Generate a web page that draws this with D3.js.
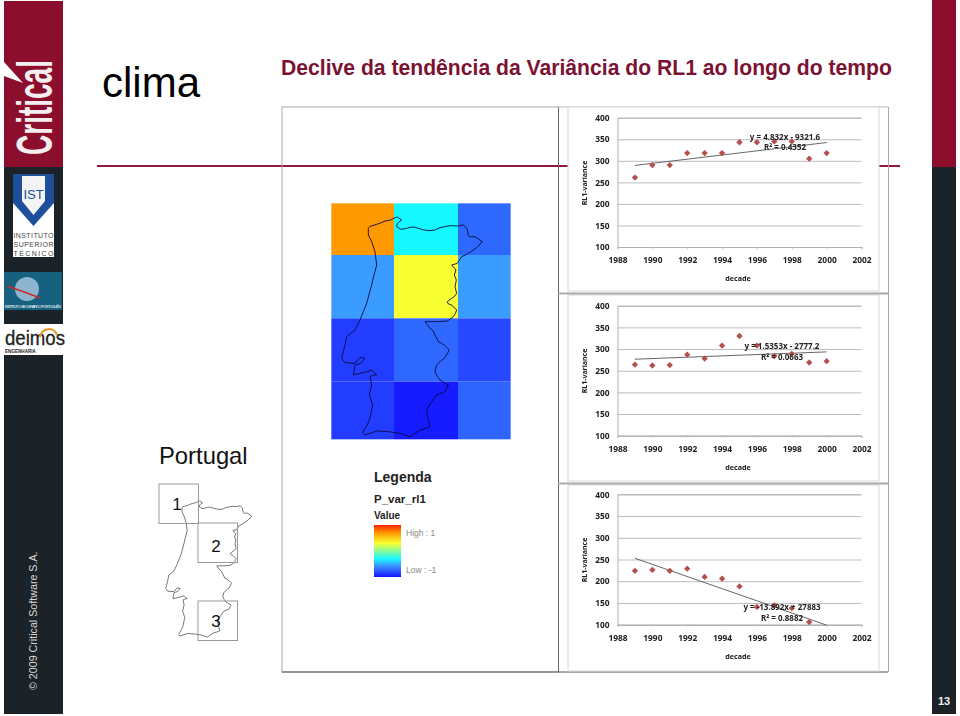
<!DOCTYPE html>
<html>
<head>
<meta charset="utf-8">
<script src="https://cdn.jsdelivr.net/npm/d3@7"></script>
<style>
html,body{margin:0;padding:0;background:#fff}
svg{display:block}
text{font-family:"Liberation Sans",Arial,sans-serif}
.chart text{font-family:"Noto Sans",sans-serif;font-weight:700;fill:#222}
.chart .domain{stroke:#b0b0b0}
.chart .tick line{stroke:#bdbdbd}
</style>
</head>
<body>
<svg id="slide" width="960" height="716"></svg>
<script>
// ---------- data ----------
const years = [1989,1990,1991,1992,1993,1994,1995,1996,1997,1998,1999,2000];
const region1Variance = [261,290,290,318,318,318,343,343,345,345,305,318];
const region2Variance = [264,262,263,287,278,308,330,308,284,289,269,272];
const region3Variance = [224,226,224,229,210,206,188,141,145,138,106];
const trendYears = [1989,2000];
const region1Trend = [289.3,342.4];
const region2Trend = [276.5,293.4];
const region3Trend = [252.8,99];
const region1Labels = ["y = 4.832x - 9321.6","R² = 0.4352"];
const region2Labels = ["y = 1.5353x - 2777.2","R² = 0.0663"];
const region3Labels = ["y = -13.892x + 27883","R² = 0.8882"];
const xTicks = [1988,1990,1992,1994,1996,1998,2000,2002];
const yTicks = [100,150,200,250,300,350,400];

// raster map: cell values, rows north to south
const gridValues = [
  [0.70,-0.30,-0.72],
  [-0.55,0.30,-0.55],
  [-0.86,-0.72,-0.82],
  [-0.86,-0.98,-0.73]
];
const gridXEdges = [34,222,414,572];   // map units
const gridYEdges = [25,180,370,560,733];
const rampValues = [-1,-0.8,-0.55,-0.3,0.3,0.7,1];
const rampColors = ["#1414ff","#2a50ff","#3a9cff","#18f8ff","#f8ff30","#ff9900","#ff2000"];

// Portugal outline, map units
const outlineX = [145,150,170,182,195,212,225,232,245,236,232,230,243,256,270,283,295,312,330,345,360,375,390,412,430,441,445,452,465,487,470,455,440,425,412,395,408,403,409,405,410,403,395,382,384,395,410,406,400,382,350,315,330,338,345,355,362,375,388,375,362,350,345,352,360,385,375,350,335,322,320,330,315,300,270,240,205,170,135,128,142,150,158,148,155,150,160,170,155,140,100,105,122,135,120,105,75,65,70,75,80,105,120,132,140,155,162,170,165,155,145,145];
const outlineY = [100,94,88,84,78,75,68,66,75,82,85,95,103,101,97,96,100,105,107,105,98,95,92,93,90,100,122,126,125,140,158,168,178,185,205,210,225,240,255,275,295,305,310,320,326,330,345,356,365,378,380,380,400,406,420,440,443,452,465,488,498,510,530,544,555,570,590,600,620,640,655,695,701,705,725,715,710,708,720,712,690,670,630,600,570,545,540,540,525,530,540,510,505,490,487,505,503,490,470,450,425,405,375,345,325,270,240,210,170,140,120,100];
const keyBoxes = ["1","2","3"];
const keyBoxX = [159,198,198];
const keyBoxY = [484,523,601];

// ---------- palette ----------
const red = "#8b0e2d", dark = "#1b2228", titleRed = "#7c1233";
const svg = d3.select("#slide");
const defs = svg.append("defs");
defs.append("filter").attr("id","soft").append("feGaussianBlur").attr("stdDeviation",0.35);

// ---------- slide frame ----------
svg.append("rect").attr("x",4).attr("y",1).attr("width",59).attr("height",713).attr("fill",dark);
svg.append("rect").attr("x",4).attr("y",1).attr("width",59).attr("height",166).attr("fill",red);
svg.append("rect").attr("x",932).attr("y",0).attr("width",24).attr("height",714).attr("fill",dark);
svg.append("rect").attr("x",932).attr("y",0).attr("width",24).attr("height",167).attr("fill",red);

svg.append("text").attr("x",944).attr("y",705).attr("text-anchor","middle").attr("font-size",11).attr("font-weight",700).attr("fill","#eee").text("13");
svg.append("text").attr("transform","translate(37,690) rotate(-90)").attr("font-size",10.7).attr("fill","#d8d8d8").text("© 2009 Critical Software S.A.");

// Critical logo: squeezed horizontally along the sidebar
svg.append("path").attr("d","M23,83L4,62L4,76Z").attr("fill","#fff");
const critical = svg.append("text").attr("font-size",50).attr("font-weight",700).attr("fill","#f4eef0").text("Critical");
const criticalScale = 95/critical.node().getComputedTextLength();
critical.attr("transform",`translate(52,155) rotate(-90) scale(${criticalScale},1)`);

// IST logo
svg.append("rect").attr("x",13).attr("y",174).attr("width",41).attr("height",83).attr("fill","#fff");
svg.append("path").attr("d","M13,174H54V203L33.5,226L13,203Z").attr("fill","#1e4f9a");
svg.append("path").attr("d","M22,176H45V201L33.5,215L22,201Z").attr("fill","#f4f4f4");
svg.append("text").attr("x",33.5).attr("y",199).attr("text-anchor","middle").attr("font-size",13).attr("fill","#1e4f9a").text("IST");
["INSTITUTO","SUPERIOR","TÉCNICO"].forEach((t,i)=>{
  svg.append("text").attr("x",13.5).attr("y",238+i*9).attr("font-size",7).attr("textLength",40).attr("fill","#444").text(t);
});

// IGP logo
svg.append("rect").attr("x",4).attr("y",272).attr("width",58).attr("height",38).attr("fill","#15617f");
svg.append("circle").attr("cx",27).attr("cy",289).attr("r",12).attr("fill","#8fb4cf");
svg.append("path").attr("d","M7,286Q25,292 40,298").attr("stroke","#c92a2a").attr("stroke-width",1.6).attr("fill","none");
svg.append("text").attr("x",5).attr("y",308).attr("font-size",4).attr("textLength",56).attr("fill","#fff").text("INSTITUTO GEOGRÁFICO PORTUGUÊS");

// Deimos logo
svg.append("rect").attr("x",0).attr("y",324).attr("width",65).attr("height",31).attr("fill","#fff");
svg.append("text").attr("x",5).attr("y",344.5).attr("font-size",20).attr("textLength",60).attr("lengthAdjust","spacingAndGlyphs")
  .attr("fill","#222").attr("stroke","#222").attr("stroke-width",0.3).text("deimos");
svg.append("path").attr("d","M40,337A9,10 0 0 1 57,335").attr("stroke","#e8941e").attr("stroke-width",2).attr("fill","none");
svg.append("text").attr("x",5).attr("y",353).attr("font-size",4.6).attr("font-weight",700).attr("fill","#222").text("ENGENHARIA");

// ---------- headings ----------
svg.append("text").attr("x",102).attr("y",97).attr("font-size",42).attr("fill","#000").text("clima");
svg.append("text").attr("x",281).attr("y",75).attr("font-size",21.15).attr("font-weight",700).attr("fill",titleRed)
  .text("Declive da tendência da Variância do RL1 ao longo do tempo");
svg.append("line").attr("x1",97).attr("x2",900).attr("y1",166).attr("y2",166).attr("stroke","#8f1a3c").attr("stroke-width",2);

// ---------- panel frames ----------
svg.append("rect").attr("x",282).attr("y",107).attr("width",276.5).attr("height",565).attr("fill","none").attr("stroke","#aaa");
svg.append("line").attr("x1",558.5).attr("x2",558.5).attr("y1",107).attr("y2",672).attr("stroke","#666");
svg.append("line").attr("x1",282).attr("x2",888).attr("y1",672).attr("y2",672).attr("stroke","#555");
svg.append("line").attr("x1",888.5).attr("x2",888.5).attr("y1",107).attr("y2",672).attr("stroke","#aaa");
svg.append("line").attr("x1",558).attr("x2",888).attr("y1",107).attr("y2",107).attr("stroke","#bbb");

// ---------- raster map ----------
const mapX = d3.scaleLinear().domain([0,600]).range([320,520]);
const mapY = d3.scaleLinear().domain([0,750]).range([195,445]);
const rampScale = d3.scaleLinear().domain(rampValues).range(rampColors);
const mapGroup = svg.append("g").attr("filter","url(#soft)");
gridValues.forEach((row,r)=>row.forEach((v,c)=>{
  mapGroup.append("rect")
    .attr("x",mapX(gridXEdges[c])).attr("y",mapY(gridYEdges[r]))
    .attr("width",mapX(gridXEdges[c+1])-mapX(gridXEdges[c]))
    .attr("height",mapY(gridYEdges[r+1])-mapY(gridYEdges[r]))
    .attr("fill",rampScale(v));
}));
const outlinePoints = outlineX.map((x,i)=>[x,outlineY[i]]);
mapGroup.append("path")
  .attr("d",d3.line().x(d=>mapX(d[0])).y(d=>mapY(d[1]))(outlinePoints))
  .attr("fill","none").attr("stroke","#0a0a3c").attr("stroke-width",0.9);

// ---------- legend ----------
svg.append("text").attr("x",374).attr("y",482).attr("font-size",14).attr("font-weight",700).attr("fill","#222").text("Legenda");
svg.append("text").attr("x",374).attr("y",503).attr("font-size",11.5).attr("font-weight",700).attr("fill","#222").text("P_var_rl1");
svg.append("text").attr("x",374).attr("y",519).attr("font-size",10).attr("font-weight",700).attr("fill","#222").text("Value");
const grad = defs.append("linearGradient").attr("id","ramp").attr("x1",0).attr("x2",0).attr("y1",1).attr("y2",0);
rampValues.forEach((v,i)=>grad.append("stop").attr("offset",(v+1)/2).attr("stop-color",rampColors[i]));
svg.append("rect").attr("x",374).attr("y",525).attr("width",27).attr("height",52).attr("fill","url(#ramp)");
svg.append("text").attr("x",406).attr("y",536).attr("font-size",8.5).attr("fill","#888").text("High : 1");
svg.append("text").attr("x",406).attr("y",573).attr("font-size",8.5).attr("fill","#888").text("Low : -1");

// ---------- key map ----------
svg.append("text").attr("x",159).attr("y",464).attr("font-size",23.8).attr("fill","#111").text("Portugal");
const keyX = d3.scaleLinear().domain([0,600]).range([152.5,274.8]);
const keyY = d3.scaleLinear().domain([0,750]).range([487.3,642.2]);
const keyGroup = svg.append("g");
keyGroup.append("path")
  .attr("d",d3.line().x(d=>keyX(d[0])).y(d=>keyY(d[1]))(outlinePoints))
  .attr("fill","none").attr("stroke","#555").attr("stroke-width",0.8);
keyBoxes.forEach((t,i)=>{
  keyGroup.append("rect").attr("x",keyBoxX[i]).attr("y",keyBoxY[i]).attr("width",39.5).attr("height",39.5)
    .attr("fill","none").attr("stroke","#999").attr("stroke-width",1);
  keyGroup.append("text").attr("x",keyBoxX[i]+18).attr("y",keyBoxY[i]+(i===1?29:26)).attr("text-anchor","middle")
    .attr("font-size",17).attr("fill","#111").text(t);
});

// ---------- scatter charts ----------
function drawChart(cfg){
  // frame covers the red rule behind it
  svg.append("rect").attr("x",568).attr("y",cfg.frameTop).attr("width",311).attr("height",cfg.frameBottom-cfg.frameTop)
    .attr("fill","#fff").attr("stroke","#d8d8d8").attr("stroke-width",1);
  const x = d3.scaleLinear().domain([1988,2002]).range([617.5,861.5]);
  const y = d3.scaleLinear().domain([100,400]).range([cfg.plotBottom,cfg.plotTop]);
  const g = svg.append("g").attr("class","chart").attr("filter","url(#soft)");
  const yAxis = d3.axisLeft(y).tickValues(yTicks).tickSize(-(x.range()[1]-x.range()[0])).tickPadding(8);
  g.append("g").attr("transform",`translate(${x.range()[0]},0)`).call(yAxis)
    .call(s=>s.selectAll("text").attr("font-size",8.4));
  const xAxis = d3.axisBottom(x).tickValues(xTicks).tickFormat(d3.format("d")).tickSize(2).tickPadding(8);
  g.append("g").attr("transform",`translate(0,${cfg.plotBottom})`).call(xAxis)
    .call(s=>s.selectAll("text").attr("font-size",8.4));
  g.append("path")
    .attr("d",d3.line().x((d,i)=>x(trendYears[i])).y(d=>y(d))(cfg.trend))
    .attr("fill","none").attr("stroke","#555").attr("stroke-width",0.9);
  g.selectAll("path.pt").data(cfg.values).enter().append("path").attr("class","pt")
    .attr("d",d3.symbol().type(d3.symbolSquare).size(20))
    .attr("transform",(d,i)=>`translate(${x(years[i])},${y(d)}) rotate(45)`)
    .attr("fill","#b5504e");
  cfg.labels.forEach((t,i)=>{
    g.append("text").attr("x",cfg.labelX).attr("y",cfg.labelY+i*cfg.labelGap).attr("text-anchor","middle")
      .attr("dominant-baseline","middle").attr("font-size",8).text(t);
  });
  g.append("text").attr("transform",`translate(587,${cfg.titleY}) rotate(-90)`).attr("text-anchor","middle")
    .attr("font-size",7).text("RL1-variance");
  g.append("text").attr("x",738).attr("y",cfg.decadeY).attr("text-anchor","middle").attr("font-size",7.2).text("decade");
}
const region1Frame = {frameTop:107,frameBottom:291,plotTop:117.7,plotBottom:247,values:region1Variance,trend:region1Trend,labels:region1Labels,labelX:785,labelY:138,labelGap:10,titleY:183,decadeY:281};
const region2Frame = {frameTop:295,frameBottom:481,plotTop:305.7,plotBottom:435.7,values:region2Variance,trend:region2Trend,labels:region2Labels,labelX:782,labelY:347,labelGap:11,titleY:371,decadeY:470};
const region3Frame = {frameTop:485,frameBottom:671,plotTop:494.3,plotBottom:624.7,values:region3Variance,trend:region3Trend,labels:region3Labels,labelX:782,labelY:608,labelGap:11,titleY:560,decadeY:659};
[region1Frame,region2Frame,region3Frame].forEach(drawChart);

// heavy grey bars between the pasted charts
[293.5,483.5].forEach(yy=>{
  svg.append("line").attr("x1",558).attr("x2",888).attr("y1",yy).attr("y2",yy).attr("stroke","#aaa").attr("stroke-width",2);
});
</script>
</body>
</html>
